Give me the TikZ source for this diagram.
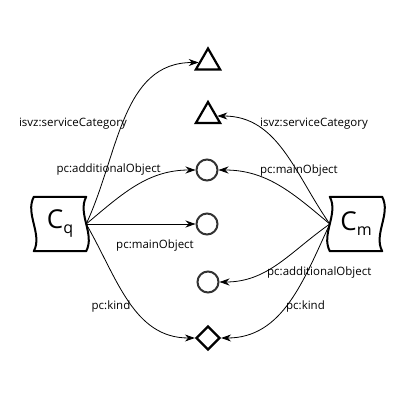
\documentclass[tikz,border=0pt]{standalone}
\usepackage{fontspec}
\setmainfont{Open Sans}
\usetikzlibrary{shapes.geometric,arrows.meta}
\begin{document}
\begin{tikzpicture}[x=1pt,y=1pt,
	lbl/.style={font=\fontsize{11.5}{13}\selectfont, inner sep=0pt},
	cls/.style={minimum width=52pt, minimum height=54pt, inner sep=0pt, font=\fontsize{26}{28}\selectfont},
	wave/.style={line width=2pt, line join=round},
	obj/.style={draw=black!80, line width=2pt, circle, minimum size=21pt, inner sep=0pt},
	tri/.style={draw, line width=2.2pt, regular polygon, regular polygon sides=3, minimum size=28pt, inner sep=0pt},
	dia/.style={draw, line width=2.2pt, diamond, minimum width=24pt, minimum height=24pt, inner sep=0pt},
	rel/.style={-{Stealth[length=10pt,width=7pt]}, line width=0.8pt}]
	\useasboundingbox (0,0) rectangle (400,400);
	% classes
	\node [cls] (cq) at (60,176) {C\raisebox{-5pt}{\fontsize{16}{18}\selectfont q}};
	\node [cls] (cm) at (356,176) {C\raisebox{-5pt}{\fontsize{16}{18}\selectfont m}};
	\draw [wave] (cq.north west) .. controls +(-9,-17) and +(9,17) .. (cq.south west)
		-- (cq.south east) .. controls +(9,17) and +(-9,-17) .. (cq.north east) -- cycle;
	\draw [wave] (cm.north west) .. controls +(9,-17) and +(-9,17) .. (cm.south west)
		-- (cm.south east) .. controls +(-9,17) and +(9,-17) .. (cm.north east) -- cycle;
	% targets
	\node [tri] (t1) at (208,337.5) {};
	\node [tri] (t2) at (208,284) {};
	\node [obj] (o1) at (207,230) {};
	\node [obj] (o2) at (207,176) {};
	\node [obj] (o3) at (208,118) {};
	\node [dia] (d) at (208,62) {};
	% relations of C_q
	\draw [rel] (cq.east) to[out=65,in=180] (t1);
	\draw [rel] (cq.east) to[out=40,in=180] (o1);
	\draw [rel] (cq.east) -- (o2);
	\draw [rel] (cq.east) to[out=-60,in=180] (d);
	% relations of C_m
	\draw [rel] (cm.west) to[out=125,in=0] (t2);
	\draw [rel] (cm.west) to[out=140,in=0] (o1);
	\draw [rel] (cm.west) to[out=-145,in=0] (o3);
	\draw [rel] (cm.west) to[out=-115,in=0] (d);
	% labels
	\node [lbl, anchor=east] (lq1) at (127,276) {isvz:serviceCategory};
	\node [lbl, anchor=east] (lq2) at (161,230) {pc:additionalObject};
	\node [lbl] (lq3) at (155,154) {pc:mainObject};
	\node [lbl] (lq4) at (111,93) {pc:kind};
	\node [lbl, anchor=west] (lm1) at (260,276) {isvz:serviceCategory};
	\node [lbl, anchor=west] (lm2) at (260,229) {pc:mainObject};
	\node [lbl, anchor=west] (lm3) at (267,127) {pc:additionalObject};
	\node [lbl, anchor=west] (lm4) at (286,93) {pc:kind};
\end{tikzpicture}
\end{document}
